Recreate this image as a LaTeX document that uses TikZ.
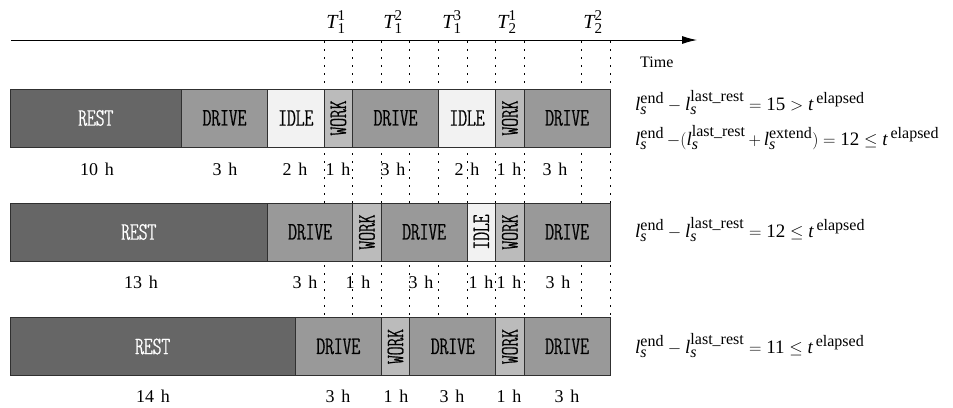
\documentclass[tikz,border=0pt]{standalone}
\usepackage{amsmath}
\usepackage{graphicx}
\usepackage{fontspec}
\setmainfont{Liberation Serif}
\newfontfamily\boxfnt{lmmonoltcond10-regular}[Extension=.otf, FakeBold=0.8]
\usetikzlibrary{arrows.meta}
\DeclareMathSizes{19}{19}{16}{12}
\DeclareMathSizes{20}{20}{15}{12}
\newcommand{\myl}{\textit{l}}
\newcommand{\mys}{\textit{s}}
\newcommand{\myt}{\textit{t}}
\newcommand{\myT}{\textit{T}}
\newcommand{\boxfont}{\fontsize{25}{26}\boxfnt}
\newcommand{\hsp}{\hspace{7pt}}
\definecolor{restc}{HTML}{666666}
\definecolor{drivec}{HTML}{999999}
\definecolor{idlec}{HTML}{F2F2F2}
\definecolor{workc}{HTML}{BBBBBB}
\definecolor{edgec}{HTML}{303030}
\begin{document}
\begin{tikzpicture}[x=1pt,y=-1pt,
  seg/.style={draw=edgec, line width=0.9pt, minimum height=58, inner sep=0pt, font=\boxfont},
  rest/.style={seg, fill=restc, text=white},
  drive/.style={seg, fill=drivec},
  idle/.style={seg, fill=idlec},
  work/.style={seg, fill=workc},
  hrs/.style={anchor=base, inner sep=0pt, font=\fontsize{18}{20}\selectfont},
  tlab/.style={anchor=base, inner sep=0pt, font=\fontsize{20}{22}\selectfont},
  lbl/.style={anchor=base west, inner sep=0pt, font=\fontsize{16}{18}\selectfont},
  frm/.style={anchor=base west, inner sep=0pt, font=\fontsize{19}{21}\selectfont},
  guide/.style={line width=0.9pt, dash pattern=on 2pt off 6pt},
  axis/.style={line width=0.9pt, -{Latex[length=15pt,width=8pt]}}
]
\useasboundingbox (0,0) rectangle (953,407);

% time axis
\coordinate (ax0) at (11,40);
\coordinate (ax1) at (697,40);
\draw[axis] (ax0) -- (ax1);
\node[lbl] (time) at (640,67) {Time};

% guides
\foreach \gx [count=\i] in {324,352.6,381.2,409.8,438.4,467,495.6,524.2,581.4,610}{
  \coordinate (gt\i) at (\gx,41);
  \coordinate (gb\i) at (\gx,317);
  \draw[guide] (gt\i) -- (gb\i);
}

% T labels
\node[tlab] (T11) at (336,28) {$\myT^{\text{1}}_{\text{1}}$};
\node[tlab] (T12) at (393,28) {$\myT^{\text{2}}_{\text{1}}$};
\node[tlab] (T13) at (452,28) {$\myT^{\text{3}}_{\text{1}}$};
\node[tlab] (T21) at (507,28) {$\myT^{\text{1}}_{\text{2}}$};
\node[tlab] (T22) at (593,28) {$\myT^{\text{2}}_{\text{2}}$};

% row 1
\node[rest,  minimum width=171.5] (r1a) at (95.75,118) {REST};
\node[drive, minimum width=86]    (r1b) at (224.5,118) {DRIVE};
\node[idle,  minimum width=56.5]  (r1c) at (295.75,118) {IDLE};
\node[work,  minimum width=28.6]  (r1d) at (338.3,118) {\rotatebox{90}{WORK}};
\node[drive, minimum width=85.8]  (r1e) at (395.5,118) {DRIVE};
\node[idle,  minimum width=57.2]  (r1f) at (467,118) {IDLE};
\node[work,  minimum width=28.6]  (r1g) at (509.9,118) {\rotatebox{90}{WORK}};
\node[drive, minimum width=85.8]  (r1h) at (567.1,118) {DRIVE};

% row 2
\node[rest,  minimum width=257.5] (r2a) at (138.75,232) {REST};
\node[drive, minimum width=85.1]  (r2b) at (310.05,232) {DRIVE};
\node[work,  minimum width=28.6]  (r2c) at (366.9,232) {\rotatebox{90}{WORK}};
\node[drive, minimum width=85.8]  (r2d) at (424.1,232) {DRIVE};
\node[idle,  minimum width=28.6]  (r2e) at (481.3,232) {\rotatebox{90}{IDLE}};
\node[work,  minimum width=28.6]  (r2f) at (509.9,232) {\rotatebox{90}{WORK}};
\node[drive, minimum width=85.8]  (r2g) at (567.1,232) {DRIVE};

% row 3
\node[rest,  minimum width=285.4] (r3a) at (152.7,346.5) {REST};
\node[drive, minimum width=85.8]  (r3b) at (338.3,346.5) {DRIVE};
\node[work,  minimum width=28.6]  (r3c) at (395.5,346.5) {\rotatebox{90}{WORK}};
\node[drive, minimum width=85.8]  (r3d) at (452.7,346.5) {DRIVE};
\node[work,  minimum width=28.6]  (r3e) at (509.9,346.5) {\rotatebox{90}{WORK}};
\node[drive, minimum width=85.8]  (r3f) at (567.1,346.5) {DRIVE};

% hours row 1
\node[hrs] (h1a) at (97,175) {10\hsp h};
\node[hrs] (h1b) at (225,175) {3\hsp h};
\node[hrs] (h1c) at (295,175) {2\hsp h};
\node[hrs] (h1d) at (338,175) {1\hsp h};
\node[hrs] (h1e) at (393,175) {3\hsp h};
\node[hrs] (h1f) at (467,175) {2\hsp h};
\node[hrs] (h1g) at (509,175) {1\hsp h};
\node[hrs] (h1h) at (555,175) {3\hsp h};

% hours row 2
\node[hrs] (h2a) at (141,288) {13\hsp h};
\node[hrs] (h2b) at (305,288) {3\hsp h};
\node[hrs] (h2c) at (358,288) {1\hsp h};
\node[hrs] (h2d) at (421,288) {3\hsp h};
\node[hrs] (h2e) at (481,288) {1\hsp h};
\node[hrs] (h2f) at (509,288) {1\hsp h};
\node[hrs] (h2g) at (558,288) {3\hsp h};

% hours row 3
\node[hrs] (h3a) at (153,402) {14\hsp h};
\node[hrs] (h3b) at (338,402) {3\hsp h};
\node[hrs] (h3c) at (396,402) {1\hsp h};
\node[hrs] (h3d) at (452,402) {3\hsp h};
\node[hrs] (h3e) at (509,402) {1\hsp h};
\node[hrs] (h3f) at (567,402) {3\hsp h};

% formulas
\node[frm] (f1) at (635,110) {$\myl^{\text{end}}_{\mys}-\myl^{\text{last\_rest}}_{\mys}=\text{15}>\myt^{\,\text{elapsed}}$};
\node[frm] (f2) at (635,145) {$\myl^{\text{end}}_{\mys}\,{-}(\myl^{\text{last\_rest}}_{\mys}\,{+}\,\myl^{\text{extend}}_{\mys})=\text{12}\le\myt^{\,\text{elapsed}}$};
\node[frm] (f3) at (635,237) {$\myl^{\text{end}}_{\mys}-\myl^{\text{last\_rest}}_{\mys}=\text{12}\le\myt^{\,\text{elapsed}}$};
\node[frm] (f4) at (635,353) {$\myl^{\text{end}}_{\mys}-\myl^{\text{last\_rest}}_{\mys}=\text{11}\le\myt^{\,\text{elapsed}}$};
\end{tikzpicture}
\end{document}
